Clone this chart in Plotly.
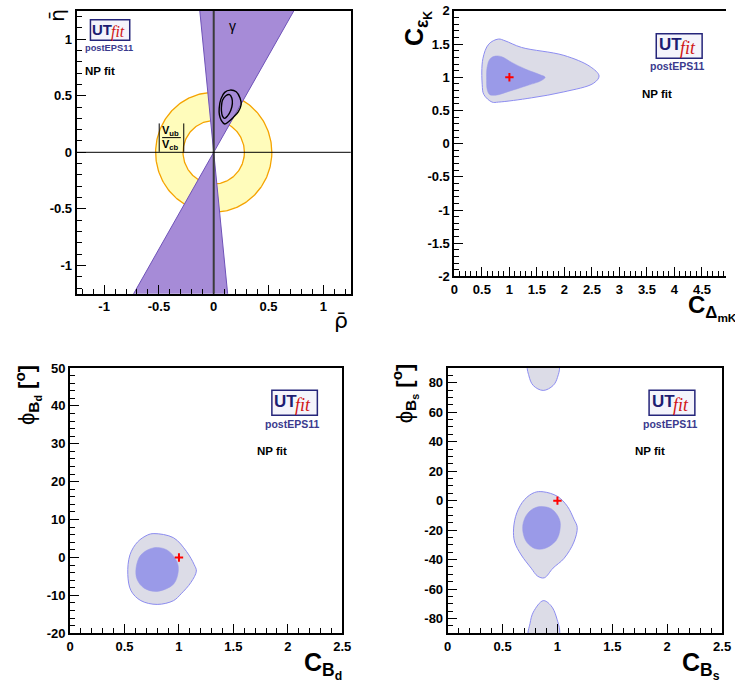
import numpy as np
import plotly.graph_objects as go

W, H = 735, 696

# ---------------- data ----------------
# panel 1: (rho-bar, eta-bar) plane
gamma_band_deg = [59.7, 95.8]          # gamma constraint: allowed angle range from origin
vub_vcb_radius = [0.28, 0.53]          # |Vub/Vcb| ring radii
rhoeta_95_rho = [0.10, 0.15, 0.205, 0.24, 0.25, 0.225, 0.18, 0.135, 0.10, 0.07, 0.052, 0.05, 0.065]
rhoeta_95_eta = [0.53, 0.55, 0.535, 0.48, 0.42, 0.36, 0.31, 0.27, 0.25, 0.28, 0.33, 0.39, 0.47]
rhoeta_68_rho = [0.08, 0.11, 0.145, 0.165, 0.17, 0.155, 0.125, 0.10, 0.08, 0.07, 0.072]
rhoeta_68_eta = [0.46, 0.50, 0.51, 0.48, 0.43, 0.37, 0.32, 0.30, 0.32, 0.37, 0.42]

# panel 2: C_eps_K vs C_DeltamK
ck_95_x = [0.506, 0.518, 0.625, 0.80, 0.92, 1.22, 1.99, 2.47, 2.63, 2.53, 1.99, 1.40, 0.80, 0.685, 0.536]
ck_95_y = [0.887, 1.28, 1.50, 1.576, 1.55, 1.45, 1.33, 1.16, 1.02, 0.91, 0.78, 0.69, 0.626, 0.626, 0.739]
ck_68_x = [0.585, 0.595, 0.65, 0.75, 0.86, 1.05, 1.30, 1.55, 1.65, 1.58, 1.30, 1.00, 0.75, 0.64, 0.595]
ck_68_y = [0.95, 1.15, 1.28, 1.32, 1.31, 1.22, 1.12, 1.04, 1.00, 0.95, 0.87, 0.79, 0.73, 0.74, 0.82]
ck_sm = [1.0, 1.0]

# panel 3: phi_Bd vs C_Bd
bd_95_x = [0.77, 0.95, 1.07, 1.14, 1.16, 1.11, 1.02, 0.95, 0.80, 0.65, 0.56, 0.53, 0.55, 0.62, 0.71]
bd_95_y = [6.3, 5.2, 1.55, -1.9, -3.6, -6.6, -9.6, -11.4, -12.4, -11.4, -8.8, -4.5, 0.7, 4.1, 5.9]
bd_68_x = [0.606, 0.651, 0.77, 0.89, 0.98, 0.994, 0.95, 0.80, 0.68, 0.615]
bd_68_y = [-2.76, 0.69, 2.58, 1.98, -1.03, -3.6, -7.06, -8.96, -8.1, -5.77]
bd_sm = [1.0, 0.0]

# panel 4: phi_Bs vs C_Bs
bs_95_x = [0.87, 1.0, 1.09, 1.15, 1.18, 1.15, 1.06, 0.96, 0.88, 0.82, 0.76, 0.67, 0.61, 0.60, 0.63, 0.70, 0.79]
bs_95_y = [6.0, 2.9, -3.8, -12.6, -18.1, -28.1, -39.2, -45.8, -52.4, -51.3, -45.8, -36.9, -28.1, -19.2, -8.2, 0.7, 5.5]
bs_68_x = [0.689, 0.734, 0.823, 0.943, 1.018, 1.024, 0.988, 0.883, 0.793, 0.719, 0.686]
bs_68_y = [-14.8, -8.2, -4.2, -5.5, -12.6, -19.2, -27.0, -32.5, -32.5, -28.1, -21.5]
bs_top_x = [0.733, 0.74, 0.78, 0.87, 0.96, 1.0, 1.01]
bs_top_y = [92, 84.7, 78.1, 74.8, 78.1, 83.6, 92]
bs_bot_x = [0.74, 0.75, 0.78, 0.87, 0.94, 0.99, 1.01]
bs_bot_y = [-92, -83.4, -75.7, -67.9, -71.2, -79, -92]
bs_sm = [1.0, 0.0]

# axis ticks
p1_ticks = [-1, -0.5, 0, 0.5, 1]
p2_xticks = [0, 0.5, 1, 1.5, 2, 2.5, 3, 3.5, 4, 4.5, 5]
p2_yticks = [-2, -1.5, -1, -0.5, 0, 0.5, 1, 1.5, 2]
p34_xticks = [0, 0.5, 1, 1.5, 2, 2.5]
p3_yticks = [-20, -10, 0, 10, 20, 30, 40, 50]
p4_yticks = [-80, -60, -40, -20, 0, 20, 40, 60, 80]

# ---------------- style ----------------
FONT = "Liberation Sans"
OUT_FILL = "#dcdce7"
OUT_LINE = "#8c8cf0"
IN_FILL = "#9a9ae8"
GAMMA_FILL = "#a68bd7"
GAMMA_LINE = "#6e52b8"
RING_FILL = "#fffcbb"
RING_LINE = "#f5a300"


def px(x):
    return x / W


def py(y):
    return 1 - y / H


fig = go.Figure()


def closed(xs, ys):
    return list(xs) + [xs[0]], list(ys) + [ys[0]]


def region(xs, ys, fill, line, xa, ya, lw=1.0):
    cx, cy = closed(xs, ys)
    fig.add_trace(go.Scatter(x=cx, y=cy, mode="lines", fill="toself", fillcolor=fill,
                             line=dict(color=line, width=lw, shape="spline", smoothing=1.0),
                             xaxis=xa, yaxis=ya, hoverinfo="skip", showlegend=False))


def cross(pt, xa, ya):
    fig.add_trace(go.Scatter(x=[pt[0]], y=[pt[1]], mode="markers",
                             marker=dict(symbol="cross-thin", size=6,
                                         line=dict(color="red", width=2)),
                             xaxis=xa, yaxis=ya, hoverinfo="skip", showlegend=False))


# ---- panel 1 ----
th = np.linspace(0, 2 * np.pi, 241)
r_in, r_out = vub_vcb_radius
ring_x = list(r_out * np.cos(th)) + list(r_in * np.cos(th[::-1]))
ring_y = list(r_out * np.sin(th)) + list(r_in * np.sin(th[::-1]))
fig.add_trace(go.Scatter(x=ring_x, y=ring_y, mode="lines", fill="toself", fillcolor=RING_FILL,
                         line=dict(width=0), xaxis="x", yaxis="y", hoverinfo="skip", showlegend=False))
for r in vub_vcb_radius:
    fig.add_trace(go.Scatter(x=r * np.cos(th), y=r * np.sin(th), mode="lines",
                             line=dict(color=RING_LINE, width=1.3),
                             xaxis="x", yaxis="y", hoverinfo="skip", showlegend=False))

a1, a2 = np.radians(gamma_band_deg)
R = 4.0
for s in (1, -1):
    wx = [0, s * R * np.cos(a1), s * R * np.cos(a2), 0]
    wy = [0, s * R * np.sin(a1), s * R * np.sin(a2), 0]
    fig.add_trace(go.Scatter(x=wx, y=wy, mode="lines", fill="toself", fillcolor=GAMMA_FILL,
                             line=dict(color=GAMMA_LINE, width=1),
                             xaxis="x", yaxis="y", hoverinfo="skip", showlegend=False))

for xs, ys in ((rhoeta_95_rho, rhoeta_95_eta), (rhoeta_68_rho, rhoeta_68_eta)):
    cx, cy = closed(xs, ys)
    fig.add_trace(go.Scatter(x=cx, y=cy, mode="lines",
                             line=dict(color="black", width=1.4, shape="spline", smoothing=1.0),
                             xaxis="x", yaxis="y", hoverinfo="skip", showlegend=False))

# ---- panel 2 ----
region(ck_95_x, ck_95_y, OUT_FILL, OUT_LINE, "x2", "y2")
region(ck_68_x, ck_68_y, IN_FILL, IN_FILL, "x2", "y2", lw=0.5)
cross(ck_sm, "x2", "y2")

# ---- panel 3 ----
region(bd_95_x, bd_95_y, OUT_FILL, OUT_LINE, "x3", "y3")
region(bd_68_x, bd_68_y, IN_FILL, IN_FILL, "x3", "y3", lw=0.5)
cross(bd_sm, "x3", "y3")

# ---- panel 4 ----
region(bs_95_x, bs_95_y, OUT_FILL, OUT_LINE, "x4", "y4")
region(bs_top_x, bs_top_y, OUT_FILL, OUT_LINE, "x4", "y4")
region(bs_bot_x, bs_bot_y, OUT_FILL, OUT_LINE, "x4", "y4")
region(bs_68_x, bs_68_y, IN_FILL, IN_FILL, "x4", "y4", lw=0.5)
cross(bs_sm, "x4", "y4")


def fmt(v):
    return "%g" % v


def axis(dom, rng, ticks, minor, anchor, mirror=True, **kw):
    d = dict(domain=dom, range=rng, anchor=anchor, tickmode="array", tickvals=ticks,
             ticktext=[fmt(v) for v in ticks], ticks="inside", ticklen=9, tickwidth=1,
             tickcolor="black",
             minor=dict(ticks="inside", ticklen=5, dtick=minor, tick0=0, tickcolor="black",
                        tickwidth=1, showgrid=False),
             showline=True, linecolor="black", linewidth=2, mirror=mirror, showgrid=False,
             zeroline=False, layer="above traces",
             tickfont=dict(family=FONT, size=13, color="black", weight="bold"))
    d.update(kw)
    return d


# pixel frames
p1 = (74, 353, 4, 293)
p2 = (458.5, 735, 4, 275.3)
p3 = (67.3, 344.3, 369, 640)
p4 = (451.7, 731, 369, 640)


def dom(p):
    return [px(p[0]), px(p[1])], [py(p[3]), py(p[2])]


d1x, d1y = dom(p1)
d2x, d2y = dom(p2)
d3x, d3y = dom(p3)
d4x, d4y = dom(p4)

p2_xmax = (735 - 458.5) / 56.0

fig.update_layout(
    width=W, height=H, margin=dict(l=0, r=0, t=0, b=0),
    paper_bgcolor="white", plot_bgcolor="white", showlegend=False,
    xaxis=axis(d1x, [-1.25, 1.25], p1_ticks, 0.1, "y"),
    yaxis=axis(d1y, [-1.25, 1.25], p1_ticks, 0.1, "x"),
    xaxis2=axis(d2x, [0, p2_xmax], p2_xticks, 0.1, "y2"),
    yaxis2=axis(d2y, [-2, 2], p2_yticks, 0.1, "x2", mirror=False),
    xaxis3=axis(d3x, [0, 2.5], p34_xticks, 0.1, "y3"),
    yaxis3=axis(d3y, [-20, 50], p3_yticks, 2, "x3"),
    xaxis4=axis(d4x, [0, 2.5], p34_xticks, 0.1, "y4"),
    yaxis4=axis(d4y, [-90, 90], p4_yticks, 5, "x4"),
)

ann = []
shapes = []

# reference axes through the origin of the (rho, eta) plane
shapes.append(dict(type="line", xref="x", yref="y domain", x0=0, x1=0, y0=0, y1=1,
                   line=dict(color="#3a3a3a", width=2), layer="above"))
shapes.append(dict(type="line", xref="x domain", yref="y", x0=0, x1=1, y0=0, y1=0,
                   line=dict(color="black", width=1), layer="above"))


def text(x, y, t, size, bold=True, color="black", family=FONT, angle=0, xanchor="center",
         yanchor="middle"):
    ann.append(dict(x=px(x), y=py(y), xref="paper", yref="paper", text=t, showarrow=False,
                    textangle=angle, xanchor=xanchor, yanchor=yanchor,
                    font=dict(family=family, size=size, color=color,
                              weight="bold" if bold else "normal")))


def logo(box, post_c, np_c, s=1.0):
    x0, y0, x1, y1 = box
    shapes.append(dict(type="rect", xref="paper", yref="paper", x0=px(x0), x1=px(x1),
                       y0=py(y1), y1=py(y0), fillcolor="#f4f4fb",
                       line=dict(color="#25257a", width=1.5), layer="above"))
    cx, cy = (x0 + x1) / 2, (y0 + y1) / 2
    text(cx - 9 * s, cy - 1, "UT", 17 * s, color="#1d1d72")
    text(cx + 9 * s, cy + 2, "<i>fit</i>", 18 * s, bold=False, color="#d01414",
         family="Liberation Serif")
    text(post_c[0], post_c[1], "postEPS11", 10 * s + 0.5, color="#3a3a8e")
    text(np_c[0], np_c[1], "NP fit", 11.5, color="black")


logo((88, 13, 128, 34), (106.7, 42.3), (98, 65.7), 0.88)
logo((664, 27.3, 710.7, 52.3), (685, 60.7), (665, 89.3))
logo((272.7, 391.7, 319, 417.3), (293.3, 426), (273.3, 454))
logo((656.7, 391.7, 703.3, 417.3), (678.3, 426), (657.3, 454))

# panel 1 labels
text(233, 19, "γ", 14, bold=False)
text(170, 126.5, "V<sub>ub</sub>", 11)
text(170, 141, "V<sub>cb</sub>", 11)
for xx in (158, 183):
    shapes.append(dict(type="line", xref="paper", yref="paper", x0=px(xx), x1=px(xx),
                       y0=py(119), y1=py(148), line=dict(color="black", width=1)))
shapes.append(dict(type="line", xref="paper", yref="paper", x0=px(161), x1=px(180),
                   y0=py(133.5), y1=py(133.5), line=dict(color="black", width=1)))

# axis titles
PHI = "<span style='font-weight:normal'>ϕ</span>"
text(54, 9, "η\u0304", 20, bold=False, family="DejaVu Sans", angle=-90)
text(343, 320, "ρ\u0304", 22, bold=False, family="DejaVu Sans")
text(421, 22, "C<sub>ε<sub>K</sub></sub>", 25, angle=-90)
text(694, 307, "C<sub>Δ<sub>mK</sub></sub>", 24, xanchor="left")
text(24, 397, PHI + "<sub>B<sub>d</sub></sub> [<sup>o</sup>]", 22, angle=-90)
text(346, 673, "C<sub>B<sub>d</sub></sub>", 25, xanchor="right")
text(408, 395, PHI + "<sub>B<sub>s</sub></sub> [<sup>o</sup>]", 22, angle=-90)
text(731, 673, "C<sub>B<sub>s</sub></sub>", 25, xanchor="right")

fig.update_layout(annotations=ann, shapes=shapes)
fig.write_html("out.html")
